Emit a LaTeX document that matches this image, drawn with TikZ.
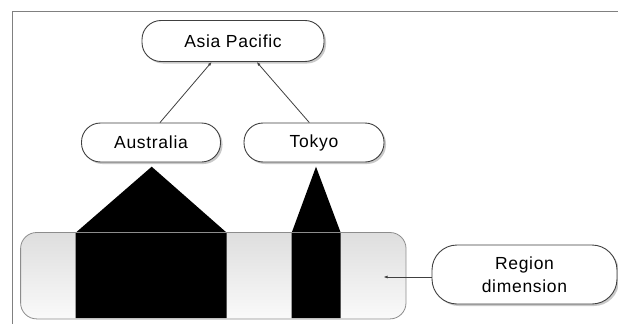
\documentclass[tikz,border=0pt]{standalone}
\usepackage{fontspec}
\setmainfont{Liberation Sans}[LetterSpace=4]
\usetikzlibrary{arrows.meta,shadows}
\begin{document}
\begin{tikzpicture}[x=1pt,y=-1pt,
  pill/.style={draw=black!75, line width=0.9pt, fill=white, rounded corners=19pt,
    align=center, font=\fontsize{17.5}{23}\selectfont, inner sep=0pt,
    drop shadow={shadow xshift=2pt, shadow yshift=-2pt, fill=black!35, opacity=0.6}},
  link/.style={draw=black!75, line width=0.8pt, -{Latex[length=4pt,width=3pt]}},
  frameline/.style={draw=black!50, line width=0.9pt},
  blk/.style={fill=black}
]
\useasboundingbox (0,0) rectangle (618,324);
\fill[white] (0,0) rectangle (618,324);
\draw[frameline] (618,11.5) -- (12,11.5) -- (12,324);

\node[pill, minimum width=182pt, minimum height=41pt] (ap) at (233,41) {Asia Pacific};
\node[pill, minimum width=139pt, minimum height=39pt] (aus) at (151,142.5) {Australia};
\node[pill, minimum width=140pt, minimum height=39pt] (tok) at (314,142.5) {Tokyo};
\node[pill, minimum width=185pt, minimum height=59pt, rounded corners=25pt] (reg) at (524.5,274.5) {Region\\dimension};

\node[draw=none, rounded corners=16pt, minimum width=385pt, minimum height=86pt,
  top color=black!13, bottom color=black!2, inner sep=0pt] (bar) at (213.3,275.7) {};

\fill[blk] (75.7,318.2) -- (75.7,232.7) -- (151.7,166.7) -- (226.7,232.7) -- (226.7,318.2) -- cycle;
\fill[blk] (291.7,318.2) -- (291.7,232.7) -- (316,166.7) -- (340.7,232.7) -- (340.7,318.2) -- cycle;

\draw[black!45, line width=0.8pt, rounded corners=16pt] (bar.north west) rectangle (bar.south east);

\draw[link] ([xshift=9pt]aus.north) -- ([xshift=-21.3pt]ap.south);
\draw[link] ([xshift=-4.7pt]tok.north) -- ([xshift=23.7pt]ap.south);
\coordinate (tip) at (383.5,277);
\draw[link] ([yshift=-2.5pt]reg.west) -- (tip);
\end{tikzpicture}
\end{document}
